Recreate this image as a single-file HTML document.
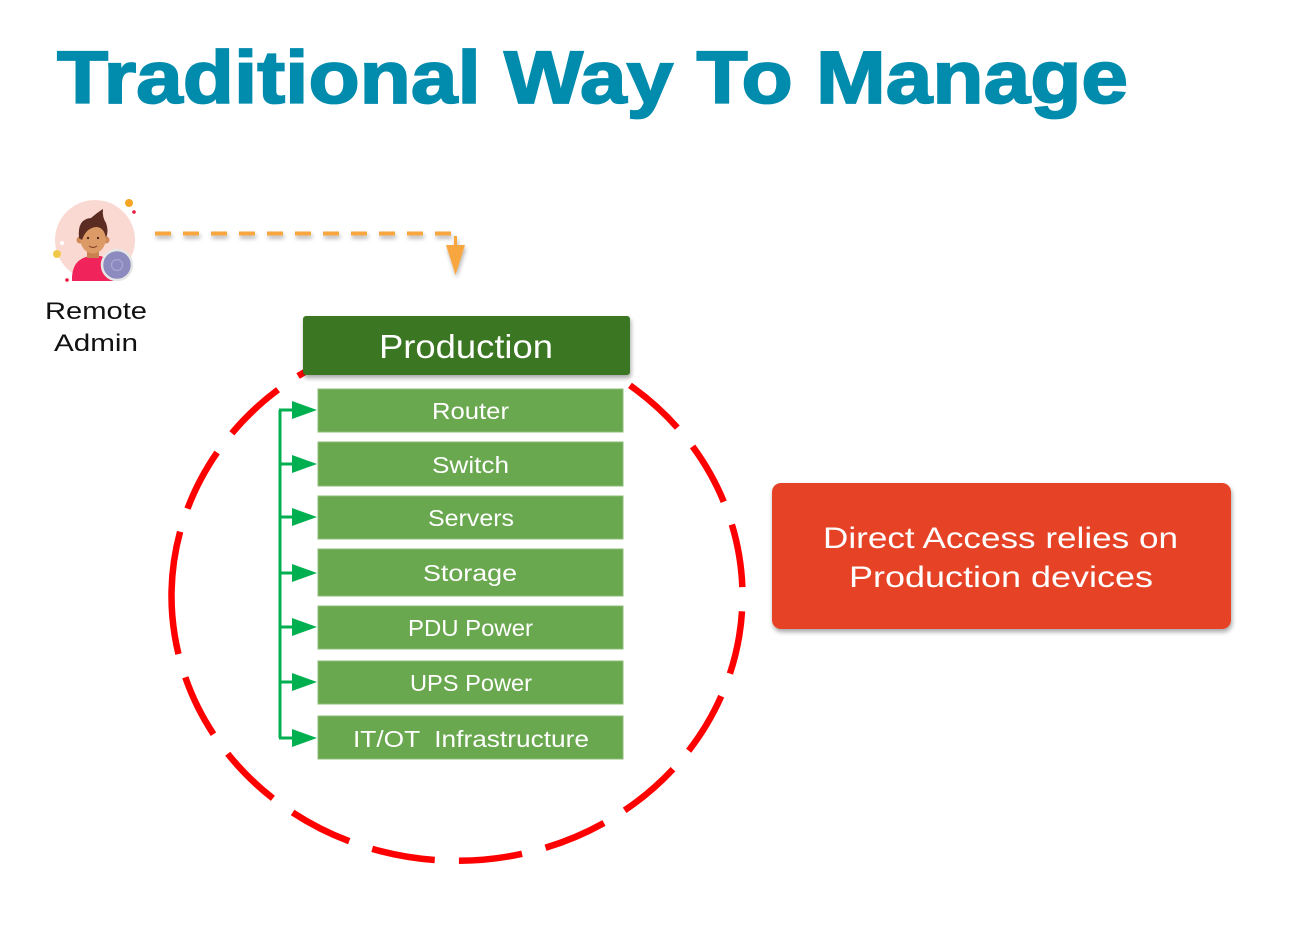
<!DOCTYPE html>
<html>
<head>
<meta charset="utf-8">
<style>
  html, body { margin: 0; padding: 0; background: #ffffff; }
  body { width: 1302px; height: 949px; overflow: hidden; }
  svg { display: block; }
  text { font-family: "Liberation Sans", Arial, sans-serif; }
</style>
</head>
<body>
<svg width="1302" height="949" viewBox="0 0 1302 949" xmlns="http://www.w3.org/2000/svg">
  <defs>
    <filter id="sh" x="-20%" y="-30%" width="140%" height="170%">
      <feDropShadow dx="1" dy="3" stdDeviation="2.5" flood-color="#000" flood-opacity="0.35"/>
    </filter>
    <filter id="sh2" x="-10%" y="-50%" width="120%" height="250%">
      <feDropShadow dx="1" dy="3" stdDeviation="2" flood-color="#000" flood-opacity="0.3"/>
    </filter>
  </defs>

  <rect x="0" y="0" width="1302" height="949" fill="#ffffff"/>

  <!-- Title -->
  <text x="57" y="103" font-size="74" font-weight="bold" fill="#018bad" stroke="#018bad" stroke-width="1.8" textLength="1071" lengthAdjust="spacingAndGlyphs">Traditional Way To Manage</text>

  <!-- Avatar -->
  <g>
    <circle cx="95" cy="240" r="40" fill="#fbd9d3"/>
    <circle cx="129" cy="203" r="4" fill="#f5a623"/>
    <circle cx="134" cy="212" r="1.8" fill="#e8173e"/>
    <circle cx="57" cy="254" r="4" fill="#f2c84b"/>
    <circle cx="67" cy="280" r="1.8" fill="#e8173e"/>
    <circle cx="62" cy="243" r="2" fill="#ffffff"/>
    <path d="M72 281 Q71 259 90 256 L100 256 Q116 259 117 281 Z" fill="#f0245a"/>
    <rect x="87" y="247" width="12" height="11" fill="#c98050"/>
    <circle cx="80" cy="240" r="3.5" fill="#d08a58"/>
    <circle cx="106" cy="240" r="3.5" fill="#d08a58"/>
    <ellipse cx="93" cy="238" rx="13" ry="15.5" fill="#dc9a66"/>
    <path d="M79 238 Q77 219 91 218 Q98 212 103 209 Q102 217 106 223 Q109 231 106 238 Q104 227 96 227 Q86 228 82 240 Z" fill="#5a2c22"/>
    <circle cx="88" cy="238" r="1.1" fill="#3a1a12"/>
    <circle cx="98" cy="238" r="1.1" fill="#3a1a12"/>
    <path d="M89 246 Q93 249 97 246" stroke="#7a3a22" stroke-width="1" fill="none"/>
    <circle cx="117" cy="265" r="15" fill="#8d8ac0" stroke="#e6e6e6" stroke-width="2.5"/>
    <circle cx="117" cy="265" r="5.5" fill="none" stroke="#a9a6d4" stroke-width="1.2"/>
  </g>
  <text x="45" y="319" font-size="24" fill="#111" textLength="102" lengthAdjust="spacingAndGlyphs">Remote</text>
  <text x="54" y="351" font-size="24" fill="#111" textLength="84" lengthAdjust="spacingAndGlyphs">Admin</text>

  <!-- Orange dashed arrow -->
  <g filter="url(#sh2)">
    <path d="M155 233.5 L452 233.5" stroke="#f8a640" stroke-width="4" stroke-dasharray="16 12" fill="none"/>
    <path d="M455.5 236 L455.5 246" stroke="#f8a640" stroke-width="3" fill="none"/>
    <polygon points="446,245 465,245 455.5,275" fill="#f8a640"/>
  </g>

  <!-- Red dashed ellipse (seam at left, like reference) -->
  <path d="M171.55 591 A285 264.5 0 0 0 742.45 601 A285 264.5 0 0 0 171.55 591" pathLength="1712" fill="none" stroke="#ff0000" stroke-width="6.5" stroke-dasharray="63 24" stroke-dashoffset="0"/>

  <!-- Production header -->
  <rect x="303" y="316" width="327" height="59" rx="3" fill="#3a7620" filter="url(#sh)"/>
  <text x="379" y="358" font-size="33" fill="#ffffff" textLength="174" lengthAdjust="spacingAndGlyphs">Production</text>

  <!-- Items -->
  <g fill="#6aa84f" stroke="#8cbd76" stroke-width="1">
    <rect x="318" y="389" width="305" height="43"/>
    <rect x="318" y="442" width="305" height="44"/>
    <rect x="318" y="496" width="305" height="43"/>
    <rect x="318" y="549" width="305" height="47"/>
    <rect x="318" y="606" width="305" height="43"/>
    <rect x="318" y="661" width="305" height="43"/>
    <rect x="318" y="716" width="305" height="43"/>
  </g>
  <g font-size="23" fill="#ffffff">
    <text x="432" y="419" textLength="77" lengthAdjust="spacingAndGlyphs">Router</text>
    <text x="432" y="473" textLength="77" lengthAdjust="spacingAndGlyphs">Switch</text>
    <text x="428" y="526" textLength="86" lengthAdjust="spacingAndGlyphs">Servers</text>
    <text x="423" y="581" textLength="94" lengthAdjust="spacingAndGlyphs">Storage</text>
    <text x="408" y="636" textLength="125" lengthAdjust="spacingAndGlyphs">PDU Power</text>
    <text x="410" y="691" textLength="122" lengthAdjust="spacingAndGlyphs">UPS Power</text>
    <text x="353" y="747" textLength="236" lengthAdjust="spacingAndGlyphs" xml:space="preserve">IT/OT  Infrastructure</text>
  </g>

  <!-- Green connectors -->
  <g stroke="#00b050" stroke-width="3" fill="none">
    <path d="M280 410 L280 738"/>
    <path d="M279 410 L294 410"/>
    <path d="M279 464 L294 464"/>
    <path d="M279 517 L294 517"/>
    <path d="M279 573 L294 573"/>
    <path d="M279 627 L294 627"/>
    <path d="M279 682 L294 682"/>
    <path d="M279 738 L294 738"/>
  </g>
  <g fill="#00b050">
    <polygon points="292,401 317,410 292,419"/>
    <polygon points="292,455 317,464 292,473"/>
    <polygon points="292,508 317,517 292,526"/>
    <polygon points="292,564 317,573 292,582"/>
    <polygon points="292,618 317,627 292,636"/>
    <polygon points="292,673 317,682 292,691"/>
    <polygon points="292,729 317,738 292,747"/>
  </g>

  <!-- Red callout -->
  <rect x="772" y="483" width="459" height="146" rx="9" fill="#e64325" filter="url(#sh)"/>
  <text x="823" y="548" font-size="30" fill="#ffffff" textLength="355" lengthAdjust="spacingAndGlyphs">Direct Access relies on</text>
  <text x="849" y="587" font-size="30" fill="#ffffff" textLength="304" lengthAdjust="spacingAndGlyphs">Production devices</text>
</svg>
</body>
</html>
